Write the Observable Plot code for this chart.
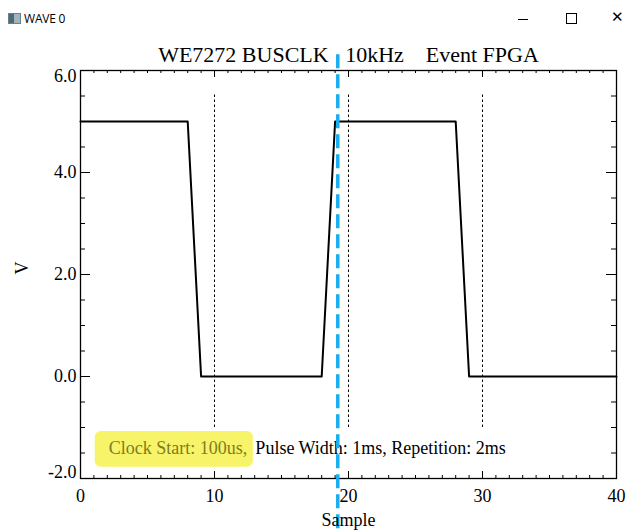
<!DOCTYPE html>
<html>
<head>
<meta charset="utf-8">
<script src="https://cdn.jsdelivr.net/npm/d3@7"></script>
<script src="https://cdn.jsdelivr.net/npm/@observablehq/plot@0.6"></script>
<style>
  html, body { margin: 0; padding: 0; background: #fff; }
  #wrap { width: 629px; height: 532px; position: relative; overflow: hidden; background: #fff; }
  #bar { position: relative; height: 36px; width: 629px; font-family: "Open Sans", "DejaVu Sans", sans-serif; font-size: 12px; color: #000; }
  #icon { position: absolute; left: 8px; top: 13px; width: 11px; height: 9px; background: linear-gradient(90deg, #4a6a78 0 45%, #9fb4bc 45% 100%); border: 1px solid #6d8088; }
  #wtitle { position: absolute; left: 24px; top: 10px; letter-spacing: -0.2px; }
  #min { position: absolute; left: 518px; top: 19px; width: 10px; height: 1px; background: #000; }
  #max { position: absolute; left: 566px; top: 13px; width: 9px; height: 9px; border: 1px solid #000; }
  #close { position: absolute; left: 611px; top: 8px; font-size: 15px; font-family: "DejaVu Sans", sans-serif; font-weight: 200; }
  #chart { position: absolute; left: 0; top: 36px; }
  #chart svg { overflow: visible; }
</style>
</head>
<body>
<div id="wrap">
  <div id="bar"><div id="icon"></div><div id="wtitle">WAVE 0</div><div id="min"></div><div id="max"></div><div id="close">✕</div></div>
  <div id="chart"></div>
</div>
<script>
// ---- data ----
const sampleX = [0, 8, 9, 18, 19, 28, 29, 40];
const voltage = [5, 5, 0, 0, 5, 5, 0, 0];
const markerX = [10, 20, 30];          // dotted reference lines
const markerSpan = [-1.0, 5.55];
const cursorX = [19.2];                // blue dashed cursor
const cursorSpan = [6.31, -3.06];
const xMajor = [0, 10, 20, 30, 40];
const xMinor = d3.range(0, 41, 1);
const yMajor = [-2, 0, 2, 4, 6];
const yInner = [0, 2, 4];
const yMinor = d3.range(-2, 6.01, 0.5);
const titleText = "WE7272 BUSCLK\u00a0\u00a0 10kHz\u00a0\u00a0\u00a0 Event FPGA";
const noteParts = ["Clock Start: 100us,", "Pulse Width: 1ms, Repetition: 2ms"];
const noteX = [2.1, 13.05];
const noteY = [-1.4, -1.4];
const highlightX = [1.1, 12.9];
const highlightY = [-1.78, -1.08];

const signal = sampleX.map((x, i) => ({x, v: voltage[i]}));
const notes = noteParts.map((t, i) => ({t, x: noteX[i], y: noteY[i]}));

const W = 629, H = 496, mT = 34, mB = 54, mL = 80, mR = 13;
const innerH = H - mT - mB, innerW = W - mL - mR;
const serif = "Liberation Serif, Times New Roman, serif";
const fmtY = d => d.toFixed(1);

const chart = Plot.plot({
  width: W, height: H,
  marginTop: mT, marginBottom: mB, marginLeft: mL, marginRight: mR,
  x: {domain: [0, 40]},
  y: {domain: [-2, 6]},
  style: {fontFamily: serif, fontSize: "18px", background: "white", color: "black", overflow: "visible"},
  marks: [
    // highlight
    Plot.rect([0], {x1: () => highlightX[0], x2: () => highlightX[1], y1: () => highlightY[0], y2: () => highlightY[1], fill: "#f7f46a", rx: 6}),
    // axes labels
    Plot.axisX({ticks: xMajor, tickSize: 0, tickPadding: 11, label: null, tickFormat: d => String(d), fontSize: 18}),
    Plot.axisY({ticks: yInner, tickSize: 0, tickPadding: 4, label: null, tickFormat: fmtY, fontSize: 18}),
    Plot.axisY({ticks: [yMajor[4]], tickSize: 0, tickPadding: 4, label: null, tickFormat: fmtY, fontSize: 18, dy: 6}),
    Plot.axisY({ticks: [yMajor[0]], tickSize: 0, tickPadding: 4, label: null, tickFormat: fmtY, fontSize: 18, dy: -6}),
    // ticks bottom/top
    Plot.ruleX(xMinor, {stroke: "black", insetTop: innerH - 3}),
    Plot.ruleX(xMinor, {stroke: "black", insetBottom: innerH - 3}),
    Plot.ruleX(xMajor, {stroke: "black", insetTop: innerH - 7}),
    Plot.ruleX(xMajor, {stroke: "black", insetBottom: innerH - 7}),
    // ticks left/right
    Plot.ruleY(yMinor, {stroke: "black", insetRight: innerW - 5}),
    Plot.ruleY(yMinor, {stroke: "black", insetLeft: innerW - 5}),
    Plot.ruleY(yMajor, {stroke: "black", insetRight: innerW - 10}),
    Plot.ruleY(yMajor, {stroke: "black", insetLeft: innerW - 10}),
    Plot.frame({stroke: "black", strokeWidth: 1.3}),
    // dotted markers
    Plot.ruleX(markerX, {y1: () => markerSpan[0], y2: () => markerSpan[1], stroke: "black", strokeWidth: 1, strokeDasharray: "2.5,2.5"}),
    // signal
    Plot.line(signal, {x: "x", y: "v", stroke: "black", strokeWidth: 2}),
    // annotation text
    Plot.text(notes, {x: "x", y: "y", text: "t", textAnchor: "start", fontSize: 18, fill: (d, i) => i === 0 ? "#7f7d1c" : "black"}),
    // cursor
    Plot.ruleX(cursorX, {y1: () => cursorSpan[0], y2: () => cursorSpan[1], stroke: "#19aef0", strokeWidth: 3.5, strokeDasharray: "14,6"}),
    // title and axis names
    Plot.text([titleText], {frameAnchor: "top", lineAnchor: "middle", dy: -16, fontSize: 22, fill: "black"}),
    Plot.text(["Sample"], {frameAnchor: "bottom", lineAnchor: "middle", dy: 42, fontSize: 18, fill: "black"}),
    Plot.text(["V"], {frameAnchor: "left", lineAnchor: "middle", dx: -58, rotate: -90, fontSize: 18, fill: "black"})
  ]
});
document.getElementById("chart").appendChild(chart);
</script>
</body>
</html>
